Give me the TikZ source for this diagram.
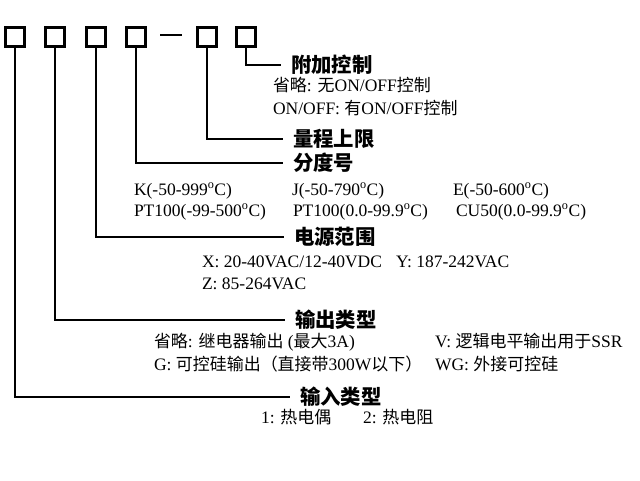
\documentclass[tikz,border=0pt]{standalone}
\usepackage{fontspec}
\setmainfont{Liberation Serif}
\newfontfamily\cjk[Scale=0.97]{Noto Sans CJK SC}
\newcommand\zh[1]{{\cjk #1}}
\newcommand\dg{\textsuperscript{o}}
\tikzset{
  box/.style={draw, line width=2.2pt, minimum size=19pt, inner sep=0pt},
  heading/.style={anchor=west, inner xsep=9pt, inner ysep=0pt,
    font=\fontsize{21}{24}\selectfont\cjk\bfseries},
  note/.style={anchor=base west, inner sep=0pt,
    font=\fontsize{17.5}{20}\selectfont},
}
\begin{document}
\begin{tikzpicture}[x=1pt, y=-1pt, line width=2pt]
      \useasboundingbox (0,0) rectangle (640,480);
      \draw
        (15,37) node[box] (b1){}
        (55,37) node[box] (b2){}
        (96,37) node[box] (b3){}
        (136,37) node[box] (b4){}
        (207,37) node[box] (b5){}
        (246,37) node[box] (b6){};
      \draw (160,35) -- (182,35);
      % headings
      \node[heading] (t6) at (281,65) {附加控制};
      \node[heading] (t5) at (283,139) {量程上限};
      \node[heading] (t4) at (283,163) {分度号};
      \node[heading] (t3) at (284,237) {电源范围};
      \node[heading] (t2) at (285,320) {输出类型};
      \node[heading] (t1) at (290,397) {输入类型};
      \begin{scope}[-]
        \draw (b6.south) |- (t6.west);
        \draw (b5.south) |- (t5.west);
        \draw (b4.south) |- (t4.west);
        \draw (b3.south) |- (t3.west);
        \draw (b2.south) |- (t2.west);
        \draw (b1.south) |- (t1.west);
      \end{scope}
      % options
      \node[note] (n61) at (272,91) {\zh{省略}: \zh{无}ON/OFF\zh{控制}};
      \node[note] (n62) at (272,114) {ON/OFF: \zh{有}ON/OFF\zh{控制}};
      \node[note] (n41) at (133,195) {K(-50-999\dg C)};
      \node[note] (n42) at (291,195) {J(-50-790\dg C)};
      \node[note] (n43) at (452,195) {E(-50-600\dg C)};
      \node[note] (n44) at (133,216) {PT100(-99-500\dg C)};
      \node[note] (n45) at (292,216) {PT100(0.0-99.9\dg C)};
      \node[note] (n46) at (455,216) {CU50(0.0-99.9\dg C)};
      \node[note] (n31) at (201,267) {X: 20-40VAC/12-40VDC};
      \node[note] (n32) at (395,267) {Y: 187-242VAC};
      \node[note] (n33) at (201,289) {Z: 85-264VAC};
      \node[note] (n21) at (153,347) {\zh{省略}: \zh{继电器输出} (\zh{最大}3A)};
      \node[note] (n22) at (434,347) {V: \zh{逻辑电平输出用于}SSR};
      \node[note] (n23) at (153,370) {G: \zh{可控硅输出（直接带}300W\zh{以下）}};
      \node[note] (n24) at (434,370) {WG: \zh{外接可控硅}};
      \node[note] (n11) at (260,423) {1: \zh{热电偶}};
      \node[note] (n12) at (362,423) {2: \zh{热电阻}};
    \end{tikzpicture}
\end{document}
